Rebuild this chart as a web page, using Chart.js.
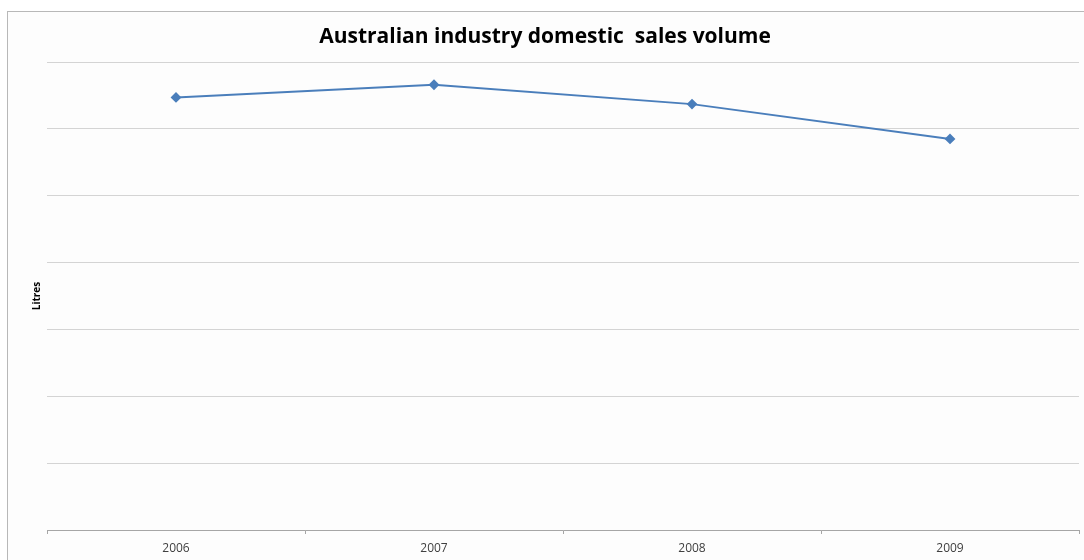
<!DOCTYPE html>
<html>
<head>
<meta charset="utf-8">
<script src="https://cdn.jsdelivr.net/npm/chart.js@4"></script>
<style>
  body { margin: 0; background: #fff; }
  #box {
    position: absolute; left: 7px; top: 11px; width: 1080px; height: 552px;
    border: 1px solid #b8b8b8; background: #fdfdfd;
    box-shadow: 1px 1px 1px #ddd;
  }
  #wrap { position: absolute; left: 1px; top: 1px; width: 1076px; height: 548px; }
</style>
</head>
<body>
<div id="box"><div id="wrap"><canvas id="salesChart"></canvas></div></div>
<script>
const years = ['2006', '2007', '2008', '2009'];
const salesVolume = [6.47, 6.66, 6.37, 5.85];
const yMin = 0;
const yMax = 7;

new Chart(document.getElementById('salesChart'), {
    type: 'line',
    data: {
        labels: years,
        datasets: [{
            label: 'Sales volume',
            data: salesVolume,
            borderColor: '#4a7ebb',
            backgroundColor: '#4a7ebb',
            borderWidth: 2,
            pointStyle: 'rectRot',
            pointRadius: 4,
            tension: 0
        }]
    },
    options: {
        responsive: true,
        maintainAspectRatio: false,
        animation: false,
        layout: { padding: { top: 1, right: 4, left: 0, bottom: 0 } },
        plugins: {
            legend: { display: false },
            tooltip: { enabled: false },
            title: {
                display: true,
                text: 'Australian industry domestic  sales volume',
                color: '#000',
                font: { family: 'Open Sans', size: 21, weight: 'bold' },
                padding: { top: 10, bottom: 12.8 }
            }
        },
        scales: {
            x: {
                offset: true,
                grid: {
                    offset: true,
                    drawOnChartArea: false,
                    drawTicks: true,
                    tickLength: 4,
                    color: '#a6a6a6'
                },
                border: { display: true, color: '#a6a6a6', width: 1 },
                ticks: {
                    color: '#404040',
                    padding: 7,
                    font: { family: 'Open Sans', size: 12 }
                },
                afterFit: (scale) => { scale.height = 31; }
            },
            y: {
                min: yMin,
                max: yMax,
                ticks: { display: false, stepSize: 1 },
                grid: { color: '#d4d4d4', drawTicks: false },
                border: { display: false },
                title: {
                    display: true,
                    text: 'Litres',
                    color: '#000',
                    font: { family: 'Open Sans', size: 10, weight: 'bold' },
                    padding: { top: 22, bottom: 0 }
                },
                afterFit: (scale) => { scale.width = 38; }
            }
        }
    }
});
</script>
</body>
</html>
